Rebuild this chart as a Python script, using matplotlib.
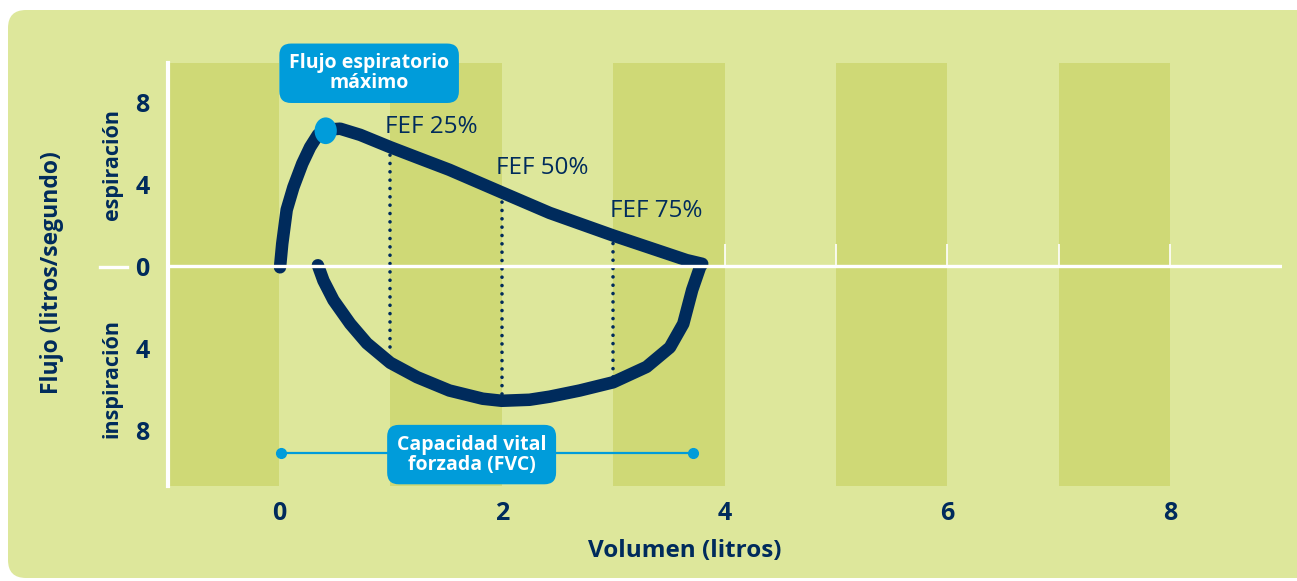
import matplotlib.pyplot as plt
from matplotlib.patches import FancyBboxPatch, Ellipse

plt.rcParams["font.family"] = ["Open Sans", "DejaVu Sans"]

NAVY = "#002b5c"
BLUE = "#009cda"
BG = "#dde79b"
STRIPE = "#cfd976"

# Flow-volume loop (volume in litres, flow in litres/second), traced in order:
# expiration out to FVC, then inspiration back
loop_vol = [0.01, 0.03, 0.07, 0.13, 0.21, 0.28, 0.35, 0.42, 0.55, 0.73, 1.0,
            1.24, 1.53, 2.0, 2.43, 3.0, 3.33, 3.66, 3.80,
            3.78, 3.71, 3.63, 3.51, 3.30, 3.0, 2.70, 2.43, 2.25, 2.0, 1.83,
            1.53, 1.24, 1.0, 0.79, 0.64, 0.49, 0.40, 0.35]
loop_flow = [-0.05, 1.1, 2.75, 3.85, 5.0, 5.8, 6.4, 6.65, 6.7, 6.4, 5.8,
             5.3, 4.7, 3.6, 2.6, 1.5, 0.9, 0.3, 0.12,
             -0.05, -1.15, -2.8, -3.95, -4.9, -5.65, -6.05, -6.35, -6.5, -6.55,
             -6.45, -6.05, -5.4, -4.7, -3.75, -2.8, -1.65, -0.7, 0.05]

pef_vol, pef_flow = 0.42, 6.6

fef_labels = ["FEF 25%", "FEF 50%", "FEF 75%"]
fef_vol = [1.0, 2.0, 3.0]
fef_top = [5.6, 3.4, 1.3]
fef_bottom = [-3.95, -6.2, -5.4]

fvc_start, fvc_end = 0.02, 3.72

stripe_left = [-1, 1, 3, 5, 7]
x_ticks = [0, 2, 4, 6, 8]
y_ticks = [-8, -4, 0, 4, 8]
y_tick_labels = ["8", "4", "0", "4", "8"]
small_ticks = [4, 5, 6, 7, 8]

W, H = 1297, 581
fig = plt.figure(figsize=(W / 100, H / 100), dpi=100)
fig.patch.set_facecolor("white")
bg = FancyBboxPatch((8, 3), 1320, 568, boxstyle="round,pad=0,rounding_size=18",
                    transform=None, facecolor=BG, edgecolor="none", zorder=-10)
fig.patches.append(bg)

ax = fig.add_axes([167.5 / W, 95 / H, 1114 / W, 423 / H])
ax.set_zorder(1)
ax.set_facecolor("none")
ax.set_xlim(-1, 9)
ax.set_ylim(-10.7, 9.9)

for x0 in stripe_left:
    ax.axvspan(x0, x0 + 1, color=STRIPE, lw=0, zorder=0)

ax.vlines(small_ticks, 0, 1.1, color="white", lw=1.2, zorder=1)

for sp in ["top", "right", "bottom"]:
    ax.spines[sp].set_visible(False)
ax.spines["left"].set_color("white")
ax.spines["left"].set_linewidth(3)

ax.set_xticks(x_ticks)
ax.set_yticks(y_ticks)
ax.set_yticklabels(y_tick_labels)
ax.tick_params(length=0, colors=NAVY, labelsize=18)
ax.tick_params(axis="y", pad=13)
ax.tick_params(axis="x", pad=11)
for lab in ax.get_xticklabels() + ax.get_yticklabels():
    lab.set_fontweight("bold")

# FEF dotted guides and labels
for v, top, bot in zip(fef_vol, fef_top, fef_bottom):
    ax.plot([v, v], [bot, top], color=NAVY, lw=2.6, ls=(0, (0.01, 2.3)),
            dash_capstyle="round", zorder=2)
ax.text(0.95, 6.8, fef_labels[0], color=NAVY, fontsize=17.5, va="center", ha="left")
ax.text(1.95, 4.8, fef_labels[1], color=NAVY, fontsize=17.5, va="center", ha="left")
ax.text(2.97, 2.7, fef_labels[2], color=NAVY, fontsize=17.5, va="center", ha="left")

ax.plot(loop_vol, loop_flow, color=NAVY, lw=9, solid_capstyle="round",
        solid_joinstyle="round", zorder=3)
ax.axhline(0, color="white", lw=2.4, zorder=3.5)
ax.add_patch(Ellipse((pef_vol, pef_flow), 0.2, 1.3, facecolor=BLUE,
                     edgecolor="none", zorder=4))

# FVC bracket
ax.plot([fvc_start, fvc_end], [-9.07, -9.07], color=BLUE, lw=1.6, zorder=4)
ax.plot([fvc_start, fvc_end], [-9.07, -9.07], "o", color=BLUE, markersize=7, zorder=4)

box = dict(boxstyle="round,pad=0.5,rounding_size=0.6", facecolor=BLUE, edgecolor="none")
ax.text(0.81, 9.4, "Flujo espiratorio\nmáximo", color="white", fontsize=14,
        fontweight="bold", ha="center", va="center", linespacing=1.0, bbox=box,
        zorder=5, clip_on=False)
ax.text(1.73, -9.17, "Capacidad vital\nforzada (FVC)", color="white", fontsize=14,
        fontweight="bold", ha="center", va="center", linespacing=1.0, bbox=box,
        zorder=5)

# Axis titles
fig.text(685 / W, 1 - 551 / H, "Volumen (litros)", color=NAVY, fontsize=17.5,
         fontweight="bold", ha="center", va="center")
fig.text(52 / W, 1 - 273 / H, "Flujo (litros/segundo)", color=NAVY, fontsize=16.5,
         fontweight="bold", ha="center", va="center", rotation=90)
fig.text(112 / W, 1 - 165 / H, "espiración", color=NAVY, fontsize=15.5,
         fontweight="bold", ha="center", va="center", rotation=90)
fig.text(112 / W, 1 - 379 / H, "inspiración", color=NAVY, fontsize=15.5,
         fontweight="bold", ha="center", va="center", rotation=90)
ax.plot([-1.61, -1.36], [-0.05, -0.05], color="white", lw=2.4, clip_on=False)

fig.savefig("out.png", dpi=100)
